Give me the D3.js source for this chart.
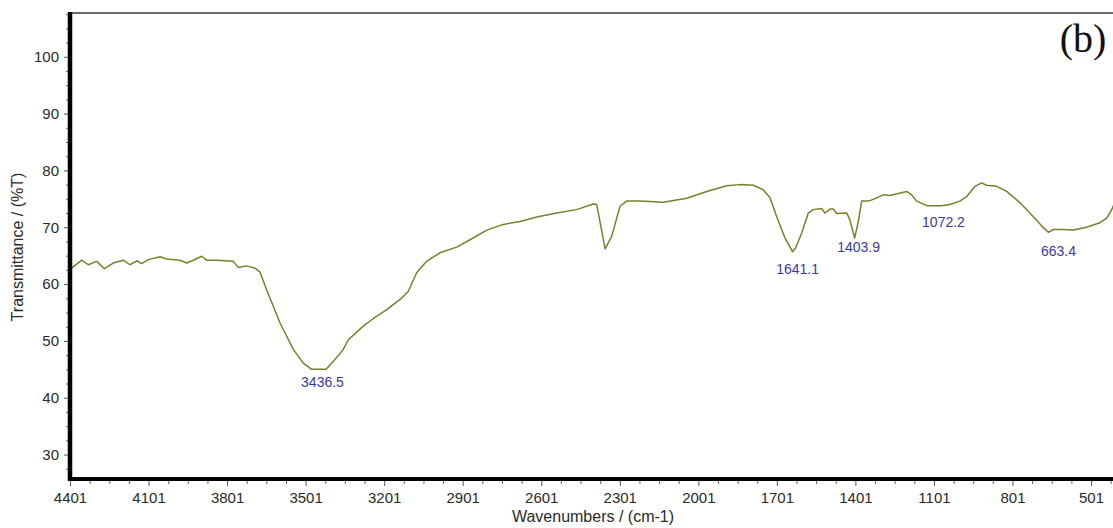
<!DOCTYPE html>
<html>
<head>
<meta charset="utf-8">
<script src="https://cdn.jsdelivr.net/npm/d3@7"></script>
<style>
  html, body { margin: 0; padding: 0; background: #fff; }
  svg { display: block; }
  text { font-family: Arial, "Liberation Sans", sans-serif; }
</style>
</head>
<body>
<svg id="chart" width="1113" height="528"></svg>
<script>
// FT-IR spectrum: wavenumber (cm-1) and transmittance (%T)
const wavenumber = [
  4401, 4356, 4331, 4299, 4270, 4236, 4197, 4172, 4146, 4127, 4102, 4057, 4032,
  3981, 3955, 3930, 3898, 3879, 3841, 3777, 3758, 3726, 3694, 3675, 3650, 3599,
  3548, 3510, 3478, 3436.5, 3423, 3395, 3357, 3338, 3281, 3243, 3191, 3140, 3109,
  3077, 3039, 2988, 2924, 2873, 2809, 2746, 2682, 2618, 2542, 2466, 2402, 2389,
  2357, 2332, 2300, 2275, 2224, 2135, 2045, 1969, 1893, 1842, 1791, 1753, 1727,
  1702, 1670, 1641.1, 1630, 1606, 1581, 1562, 1530, 1517, 1498, 1485, 1472, 1434,
  1422, 1403.9, 1390, 1377, 1352, 1333, 1294, 1269, 1205, 1186, 1167, 1129, 1072.2,
  1040, 1002, 976, 944, 919, 900, 861, 823, 772, 722, 689, 663.4, 645, 607, 569,
  518, 467, 441, 422, 410
];
const transmittance = [
  62.6, 64.2, 63.4, 64.0, 62.7, 63.7, 64.2, 63.4, 64.1, 63.6, 64.3, 64.8, 64.4,
  64.2, 63.7, 64.2, 64.9, 64.2, 64.2, 64.0, 62.9, 63.2, 62.8, 62.1, 59.0, 53.2,
  48.5, 46.1, 45.0, 45.0, 45.0, 46.4, 48.5, 50.2, 52.6, 53.9, 55.5, 57.3, 58.7,
  62.0, 64.0, 65.5, 66.5, 67.8, 69.5, 70.5, 71.0, 71.8, 72.5, 73.1, 74.1, 74.0,
  66.2, 68.4, 73.7, 74.6, 74.6, 74.4, 75.1, 76.3, 77.3, 77.5, 77.4, 76.6, 75.2,
  71.9, 68.1, 65.7, 66.3, 69.0, 72.5, 73.1, 73.3, 72.5, 73.2, 73.2, 72.4, 72.5,
  71.3, 68.1, 71.0, 74.6, 74.6, 74.9, 75.7, 75.6, 76.3, 75.7, 74.6, 73.8, 73.8,
  74.0, 74.6, 75.4, 77.2, 77.8, 77.4, 77.2, 76.3, 74.3, 71.9, 70.2, 69.1, 69.6,
  69.6, 69.5, 70.0, 70.8, 71.6, 73.1, 74.4
];

// Labelled absorption peaks
const peakWavenumbers = [3436.5, 1641.1, 1403.9, 1072.2, 663.4];
const peakLabels = ["3436.5", "1641.1", "1403.9", "1072.2", "663.4"];

// Axis ticks
const xTickValues = [4401, 4101, 3801, 3501, 3201, 2901, 2601, 2301, 2001, 1701, 1401, 1101, 801, 501];
const yTickValues = [30, 40, 50, 60, 70, 80, 90, 100];

const panelLabel = "(b)";
const xTitle = "Wavenumbers / (cm-1)";
const yTitle = "Transmittance / (%T)";

const W = 1113, H = 528;
const plotLeft = 70, plotTop = 13, plotBottom = 479;

const svg = d3.select("#chart");

const x = d3.scaleLinear().domain([4401, 400]).range([plotLeft, plotLeft + 4001 * 0.2618]);
const y = d3.scaleLinear().domain([25.7, 107.7]).range([plotBottom, plotTop]);

const series = wavenumber.map((w, i) => ({ w, t: transmittance[i] }));

// minor tick positions
const xMinor = d3.range(4401, 400, -75).filter(v => !xTickValues.includes(v));
const yMinor = d3.range(27.5, 108, 2.5).filter(v => !yTickValues.includes(v));

// top frame line
svg.append("line")
  .attr("x1", plotLeft).attr("x2", W)
  .attr("y1", plotTop).attr("y2", plotTop)
  .attr("stroke", "#3a3a3a").attr("stroke-width", 1.5);

svg.append("clipPath").attr("id", "plotClip")
  .append("rect").attr("x", plotLeft).attr("y", plotTop)
  .attr("width", W - plotLeft).attr("height", plotBottom - plotTop);

// spectrum
const line = d3.line().x(d => x(d.w)).y(d => y(d.t));
svg.append("path")
  .datum(series)
  .attr("clip-path", "url(#plotClip)")
  .attr("fill", "none")
  .attr("stroke", "#7d7d2c")
  .attr("stroke-width", 1.5)
  .attr("stroke-linejoin", "round")
  .attr("d", line);

// minor ticks
svg.append("g")
  .attr("transform", `translate(0,${plotBottom})`)
  .call(d3.axisBottom(x).tickValues(xMinor).tickSize(5).tickFormat(""))
  .call(g => g.select(".domain").remove())
  .call(g => g.selectAll("line").attr("stroke", "#666"));

svg.append("g")
  .attr("transform", `translate(${plotLeft},0)`)
  .call(d3.axisLeft(y).tickValues(yMinor).tickSize(4).tickFormat(""))
  .call(g => g.select(".domain").remove())
  .call(g => g.selectAll("line").attr("stroke", "#666"));

// major axes
const xAxis = svg.append("g")
  .attr("transform", `translate(0,${plotBottom})`)
  .call(d3.axisBottom(x).tickValues(xTickValues).tickSize(7).tickSizeOuter(0).tickPadding(6).tickFormat(d3.format("d")));
xAxis.select(".domain").remove();
xAxis.selectAll("line").attr("stroke", "#555");
xAxis.selectAll("text").attr("font-size", 15).attr("fill", "#2a2a2a");

const yAxis = svg.append("g")
  .attr("transform", `translate(${plotLeft},0)`)
  .call(d3.axisLeft(y).tickValues(yTickValues).tickSize(6).tickSizeOuter(0).tickPadding(5).tickFormat(d3.format("d")));
yAxis.select(".domain").remove();
yAxis.selectAll("line").attr("stroke", "#555");
yAxis.selectAll("text").attr("font-size", 15).attr("fill", "#2a2a2a");

// heavy axis lines
svg.append("line")
  .attr("x1", plotLeft).attr("x2", plotLeft)
  .attr("y1", plotTop - 1).attr("y2", plotBottom + 2)
  .attr("stroke", "#000").attr("stroke-width", 4.5);
svg.append("line")
  .attr("x1", plotLeft - 2).attr("x2", W)
  .attr("y1", plotBottom).attr("y2", plotBottom)
  .attr("stroke", "#000").attr("stroke-width", 4);

// peak labels
const labelOffsets = [[0, 18], [5, 22], [4, 14], [2, 21], [10, 24]];
const tAt = w => transmittance[wavenumber.indexOf(w)];
svg.append("g").selectAll("text")
  .data(peakWavenumbers)
  .join("text")
  .attr("x", (d, i) => x(d) + labelOffsets[i][0])
  .attr("y", (d, i) => y(tAt(d)) + labelOffsets[i][1])
  .attr("text-anchor", "middle")
  .attr("font-size", 14)
  .attr("fill", "#3b3b9e")
  .text((d, i) => peakLabels[i]);

// axis titles
svg.append("text")
  .attr("x", 593).attr("y", 522)
  .attr("text-anchor", "middle")
  .attr("font-size", 16)
  .attr("fill", "#2a2a2a")
  .text(xTitle);

svg.append("text")
  .attr("transform", "translate(23,247) rotate(-90)")
  .attr("text-anchor", "middle")
  .attr("font-size", 16)
  .attr("fill", "#2a2a2a")
  .text(yTitle);

// panel label
svg.append("text")
  .attr("x", 1083).attr("y", 52)
  .attr("text-anchor", "middle")
  .style("font-family", "'Liberation Serif', 'Times New Roman', serif")
  .attr("font-size", 40)
  .attr("fill", "#111")
  .text(panelLabel);
</script>
</body>
</html>
